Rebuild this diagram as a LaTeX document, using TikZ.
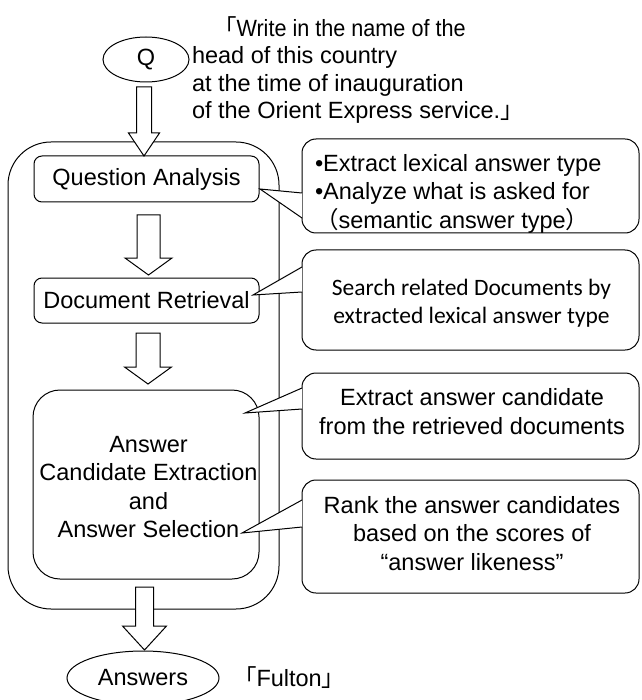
\documentclass[tikz,border=0pt]{standalone}
\usepackage{fontspec}
\setmainfont{Liberation Sans}
\newfontfamily\cjkfont{Noto Sans CJK JP}
\newfontfamily\calibfont{Carlito}
\newfontfamily\narrowfont[FakeStretch=0.92]{Liberation Sans}
\usetikzlibrary{shapes.geometric,calc}
% hollow block arrow from coordinate #1 (shaft top) to coordinate #2 (tip)
% #3 shaft half width, #4 head half width, #5 head length
\newcommand\blockarrow[5]{%
  \draw[fill=white,line join=miter] let \p1=(#1), \p2=(#2) in
    (\x1-#3pt,\y1) -- (\x1+#3pt,\y1) -- (\x1+#3pt,\y2+#5pt) -- (\x1+#4pt,\y2+#5pt)
    -- (\x2,\y2) -- (\x1-#4pt,\y2+#5pt) -- (\x1-#3pt,\y2+#5pt) -- cycle;}
\begin{document}
\begin{tikzpicture}[x=1pt,y=-1pt,line width=1pt,
  every node/.style={inner sep=0pt,outer sep=0pt},
  txt/.style={font=\fontsize{23.5}{28.5}\selectfont,align=center},
  stepbox/.style={draw,fill=white,rounded corners=8pt},
  bubble/.style={draw,fill=white,rounded corners=14pt,minimum width=337pt},
  oval/.style={draw,ellipse,fill=white}]
\useasboundingbox (0,0) rectangle (641,700);

% outer frame
\node[draw,rounded corners=43pt,minimum width=271pt,minimum height=467pt] (outer) at (143.5,375.5) {};

% question
\node[oval,minimum width=86pt,minimum height=45pt,txt] (q) at (146,59.5) {Q};
\node[font=\fontsize{23.5}{27.5}\selectfont,align=left,anchor=west] (qtext) at (192,70)
  {\hspace*{21pt}{\cjkfont 「}{\narrowfont Write in the name of the}\\
   head of this country\\
   at the time of inauguration\\
   of the Orient Express service.{\cjkfont 」}};

% steps
\node[stepbox,minimum width=225pt,minimum height=46pt,txt] (qa) at (146.5,179) {Question Analysis};
\node[stepbox,minimum width=225pt,minimum height=45pt,txt] (dr) at (146.5,300.5) {Document Retrieval};
\node[draw,fill=white,rounded corners=27pt,minimum width=226pt,minimum height=189pt] (ace) at (146,484.5) {};
\node[txt] (acetext) at (148.5,487) {Answer\\Candidate Extraction\\and\\Answer Selection};

% answers
\node[oval,minimum width=152pt,minimum height=54pt,txt] (ans) at (143,678) {Answers};
\node[txt,anchor=west] (fulton) at (233,678) {{\cjkfont 「}Fulton{\cjkfont 」}};

% block arrows
\coordinate (a1s) at (144,87);   \coordinate (a1e) at (144,156);
\coordinate (a2s) at (148.5,215); \coordinate (a2e) at (148.5,275);
\coordinate (a3s) at (148,333);  \coordinate (a3e) at (148,384);
\coordinate (a4s) at (144.5,587); \coordinate (a4e) at (144.5,650);
\blockarrow{a1s}{a1e}{7.5}{15.5}{23}
\blockarrow{a2s}{a2e}{11.5}{23.5}{17}
\blockarrow{a3s}{a3e}{12}{23.5}{17}
\blockarrow{a4s}{a4e}{9}{22}{24}

% callouts
\node[bubble,minimum height=94pt] (c1) at (470.5,186) {};
\node[txt,align=left,anchor=west] (c1text) at (315,193.5)
  {•Extract lexical answer type\\•Analyze what is asked for\\{\cjkfont （}semantic answer type{\cjkfont ）}};
\node[bubble,minimum height=100pt] (c2) at (470.5,300) {};
\node[txt,font=\calibfont\fontsize{23.5}{28.5}\selectfont] (c2text) at (471.5,303)
  {Search related Documents by\\extracted lexical answer type};
\node[bubble,minimum height=86pt] (c3) at (470.5,416) {};
\node[txt] (c3text) at (472,411.5) {Extract answer candidate\\from the retrieved documents};
\node[bubble,minimum height=113pt] (c4) at (470.5,536.5) {};
\node[txt] (c4text) at (472,533.5) {Rank the answer candidates\\based on the scores of\\“answer likeness”};

% callout pointers
\coordinate (p1) at (260,189); \coordinate (p2) at (253,295);
\coordinate (p3) at (245,413); \coordinate (p4) at (242,533);
\draw[fill=white] ([yshift=-7pt]c1.west) -- (p1) -- ([yshift=-32pt]c1.west);
\draw[fill=white] ([yshift=33pt]c2.west) -- (p2) -- ([yshift=8pt]c2.west);
\draw[fill=white] ([yshift=28pt]c3.west) -- (p3) -- ([yshift=7pt]c3.west);
\draw[fill=white] ([yshift=36.5pt]c4.west) -- (p4) -- ([yshift=9.5pt]c4.west);
\end{tikzpicture}
\end{document}
